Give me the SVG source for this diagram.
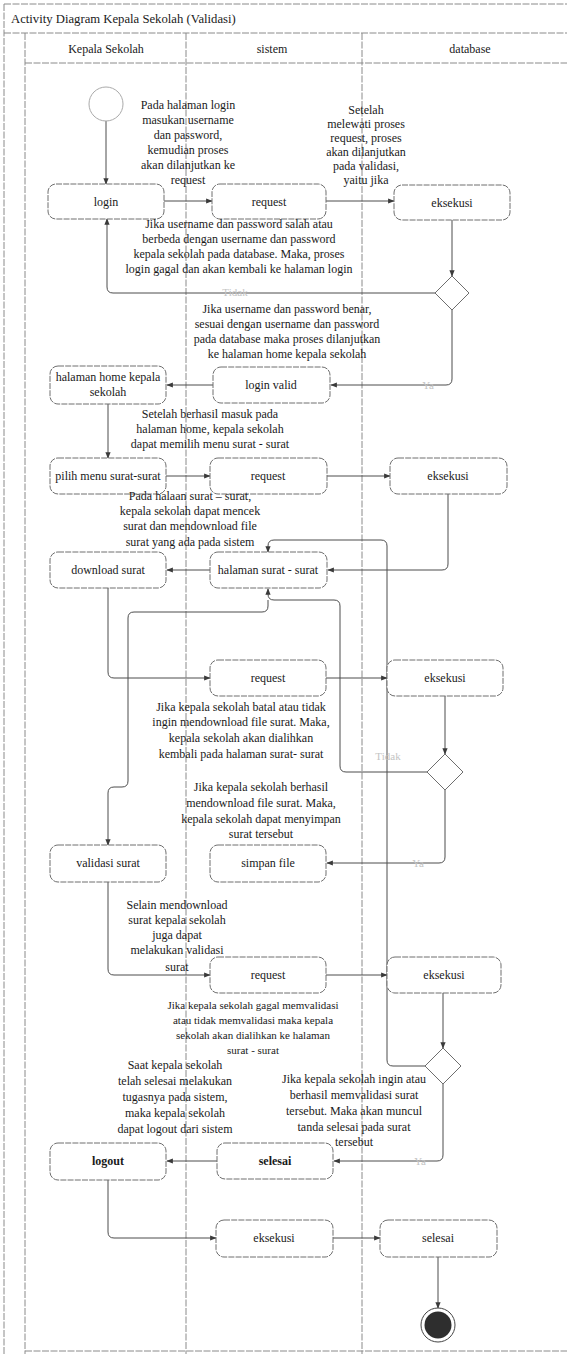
<svg xmlns="http://www.w3.org/2000/svg" width="567" height="1354" viewBox="0 0 567 1354">
  <style>
    .frame { fill: none; stroke: #8a8a8a; stroke-width: 1; stroke-dasharray: 7 1.5; }
    .node rect { fill: #fff; stroke: #6e6e6e; stroke-width: 1; stroke-dasharray: 6 1.2; }
    .node polygon { fill: #fff; stroke: #6e6e6e; stroke-width: 1; }
    .lbl { font-family: "Liberation Serif", "Times New Roman", serif; font-size: 12px; fill: #1a1a1a; text-anchor: middle; }
    .note { font-family: "Liberation Serif", "Times New Roman", serif; font-size: 12px; fill: #1a1a1a; text-anchor: middle; }
    .small { font-size: 11px; }
    .guard { font-family: "Liberation Serif", "Times New Roman", serif; font-size: 11px; fill: #c4c4c4; text-anchor: middle; }
    .title { font-family: "Liberation Serif", "Times New Roman", serif; font-size: 12.7px; fill: #1a1a1a; }
    .edge { fill: none; stroke: #4d4d4d; stroke-width: 1; marker-end: url(#arrow); }
    .bold { font-weight: bold; }
  </style>
  <defs>
    <marker id="arrow" viewBox="0 0 10 10" refX="9" refY="5" markerWidth="6.5" markerHeight="6.5" orient="auto" markerUnits="userSpaceOnUse">
      <path d="M0,1 L10,5 L0,9 z" fill="#3a3a3a"/>
    </marker>
  </defs>

  <rect width="567" height="1354" fill="#fff"/>

  <!-- frame, title row and swimlanes -->
  <g id="frame">
    <line class="frame" x1="4" y1="4" x2="567" y2="4"/>
    <line class="frame" x1="4" y1="4" x2="4" y2="1354"/>
    <line class="frame" x1="4" y1="33" x2="567" y2="33"/>
    <line class="frame" x1="25" y1="63" x2="567" y2="63"/>
    <line class="frame" x1="25" y1="33" x2="25" y2="1354"/>
    <line class="frame" x1="186" y1="33" x2="186" y2="1354"/>
    <line class="frame" x1="362" y1="33" x2="362" y2="1354"/>
    <line class="frame" x1="25" y1="1351" x2="567" y2="1351"/>
    <text class="title" x="11" y="23">Activity Diagram Kepala Sekolah (Validasi)</text>
    <text class="lbl" x="106" y="53">Kepala Sekolah</text>
    <text class="lbl" x="272" y="53">sistem</text>
    <text class="lbl" x="470" y="53">database</text>
  </g>

  <!-- connectors -->
  <g id="connectors">
    <path class="edge" d="M106 121 V184"/>
    <path class="edge" d="M164 201 H212"/>
    <path class="edge" d="M326 201 H394"/>
    <path class="edge" d="M452 220 V276"/>
    <path class="edge" d="M435 293 H113 Q107 293 107 287 V219"/>
    <path class="edge" d="M452 310 V379 Q452 385 446 385 H331"/>
    <path class="edge" d="M213 385 H167"/>
    <path class="edge" d="M108 404 V458"/>
    <path class="edge" d="M166 476 H210"/>
    <path class="edge" d="M327 476 H390"/>
    <path class="edge" d="M448 494 V564 Q448 570 442 570 H328"/>
    <path class="edge" d="M210 570 H167"/>
    <path class="edge" d="M108 588 V672 Q108 678 114 678 H210"/>
    <path class="edge" d="M326 678 H387"/>
    <path class="edge" d="M445 696 V754"/>
    <path class="edge" d="M427 772 H346 Q340 772 340 766 V606 Q340 600 334 600 H274 Q268 600 268 594 V589"/>
    <path class="edge" d="M268 600 V606 Q268 612 262 612 H134 Q128 612 128 618 V781 Q128 787 122 787 H114 Q108 787 108 793 V845"/>
    <path class="edge" d="M445 790 V857 Q445 863 439 863 H327"/>
    <path class="edge" d="M108 882 V969 Q108 975 114 975 H210"/>
    <path class="edge" d="M326 975 H387"/>
    <path class="edge" d="M443 993 V1048"/>
    <path class="edge" d="M425 1066 H393 Q387 1066 387 1060 V546 Q387 540 381 540 H274 Q268 540 268 546 V552"/>
    <path class="edge" d="M443 1084 V1155 Q443 1161 437 1161 H334"/>
    <path class="edge" d="M217 1161 H167"/>
    <path class="edge" d="M108 1180 V1232 Q108 1238 114 1238 H216"/>
    <path class="edge" d="M333 1238 H380"/>
    <path class="edge" d="M438 1257 V1308"/>
    <text class="guard" x="235" y="296">Tidak</text>
    <text class="guard" x="428" y="389">Ya</text>
    <text class="guard" x="388" y="760">Tidak</text>
    <text class="guard" x="418" y="867">Ya</text>
    <text class="guard" x="420" y="1165">Ya</text>
  </g>

  <!-- start -->
  <g id="start">
    <circle cx="106" cy="104" r="17" fill="#fff" stroke="#aaa" stroke-width="1"/>
  </g>

  <!-- actions -->
  <g id="login" class="node">
    <rect x="48" y="184" width="116" height="35" rx="8"/>
    <text class="lbl" x="106" y="206">login</text>
  </g>
  <g id="request1" class="node">
    <rect x="212" y="184" width="114" height="35" rx="8"/>
    <text class="lbl" x="269" y="206">request</text>
  </g>
  <g id="eksekusi1" class="node">
    <rect x="394" y="185" width="116" height="35" rx="8"/>
    <text class="lbl" x="452" y="207">eksekusi</text>
  </g>
  <g id="decision1" class="node">
    <polygon points="452,276 469,293 452,310 435,293"/>
  </g>
  <g id="loginValid" class="node">
    <rect x="213" y="367" width="117" height="36" rx="8"/>
    <text class="lbl" x="271" y="389">login valid</text>
  </g>
  <g id="homeKepsek" class="node">
    <rect x="50" y="366" width="116" height="38" rx="8"/>
    <text class="lbl" x="108" y="381">halaman home kepala</text>
    <text class="lbl" x="108" y="396">sekolah</text>
  </g>
  <g id="pilihMenu" class="node">
    <rect x="50" y="458" width="116" height="36" rx="8"/>
    <text class="lbl" x="108" y="480">pilih menu surat-surat</text>
  </g>
  <g id="request2" class="node">
    <rect x="210" y="458" width="117" height="36" rx="8"/>
    <text class="lbl" x="268" y="480">request</text>
  </g>
  <g id="eksekusi2" class="node">
    <rect x="390" y="458" width="117" height="36" rx="8"/>
    <text class="lbl" x="448" y="480">eksekusi</text>
  </g>
  <g id="halamanSurat" class="node">
    <rect x="210" y="552" width="117" height="36" rx="8"/>
    <text class="lbl" x="268" y="574">halaman surat - surat</text>
  </g>
  <g id="downloadSurat" class="node">
    <rect x="50" y="552" width="116" height="36" rx="8"/>
    <text class="lbl" x="108" y="574">download surat</text>
  </g>
  <g id="request3" class="node">
    <rect x="210" y="660" width="116" height="36" rx="8"/>
    <text class="lbl" x="268" y="682">request</text>
  </g>
  <g id="eksekusi3" class="node">
    <rect x="387" y="660" width="116" height="36" rx="8"/>
    <text class="lbl" x="445" y="682">eksekusi</text>
  </g>
  <g id="decision2" class="node">
    <polygon points="445,754 463,772 445,790 427,772"/>
  </g>
  <g id="validasiSurat" class="node">
    <rect x="50" y="845" width="116" height="37" rx="8"/>
    <text class="lbl" x="108" y="867">validasi surat</text>
  </g>
  <g id="simpanFile" class="node">
    <rect x="210" y="845" width="116" height="37" rx="8"/>
    <text class="lbl" x="268" y="867">simpan file</text>
  </g>
  <g id="request4" class="node">
    <rect x="210" y="957" width="116" height="36" rx="8"/>
    <text class="lbl" x="268" y="979">request</text>
  </g>
  <g id="eksekusi4" class="node">
    <rect x="387" y="957" width="114" height="36" rx="8"/>
    <text class="lbl" x="444" y="979">eksekusi</text>
  </g>
  <g id="decision3" class="node">
    <polygon points="443,1048 461,1066 443,1084 425,1066"/>
  </g>
  <g id="selesaiSistem" class="node">
    <rect x="217" y="1143" width="116" height="36" rx="8"/>
    <text class="lbl bold" x="275" y="1165">selesai</text>
  </g>
  <g id="logout" class="node">
    <rect x="50" y="1143" width="116" height="37" rx="8"/>
    <text class="lbl bold" x="108" y="1165">logout</text>
  </g>
  <g id="eksekusi5" class="node">
    <rect x="216" y="1220" width="117" height="37" rx="8"/>
    <text class="lbl" x="274" y="1242">eksekusi</text>
  </g>
  <g id="selesaiDatabase" class="node">
    <rect x="380" y="1220" width="117" height="37" rx="8"/>
    <text class="lbl" x="438" y="1242">selesai</text>
  </g>

  <!-- end -->
  <g id="end">
    <circle cx="438" cy="1325" r="17" fill="#fff" stroke="#444" stroke-width="1"/>
    <circle cx="438" cy="1325" r="13.5" fill="#2e2e2e"/>
  </g>

  <!-- notes -->
  <g id="noteLogin">
    <text class="note" x="188" y="109">Pada halaman login</text>
    <text class="note" x="188" y="124">masukan username</text>
    <text class="note" x="188" y="139">dan password,</text>
    <text class="note" x="188" y="154">kemudian proses</text>
    <text class="note" x="188" y="169">akan dilanjutkan ke</text>
    <text class="note" x="188" y="184">request</text>
  </g>
  <g id="noteRequest">
    <text class="note" x="366" y="114">Setelah</text>
    <text class="note" x="366" y="128">melewati proses</text>
    <text class="note" x="366" y="142">request, proses</text>
    <text class="note" x="366" y="156">akan dilanjutkan</text>
    <text class="note" x="366" y="170">pada validasi,</text>
    <text class="note" x="366" y="184">yaitu jika</text>
  </g>
  <g id="noteGagal">
    <text class="note" x="239" y="228">Jika username dan password salah atau</text>
    <text class="note" x="239" y="243">berbeda dengan username dan password</text>
    <text class="note" x="239" y="258">kepala sekolah pada database. Maka, proses</text>
    <text class="note" x="239" y="273">login gagal dan akan kembali ke halaman login</text>
  </g>
  <g id="noteBenar">
    <text class="note" x="287" y="313">Jika username dan password benar,</text>
    <text class="note" x="287" y="328">sesuai dengan username dan password</text>
    <text class="note" x="287" y="343">pada database maka proses dilanjutkan</text>
    <text class="note" x="287" y="358">ke halaman home kepala sekolah</text>
  </g>
  <g id="noteHome">
    <text class="note" x="210" y="418">Setelah berhasil masuk pada</text>
    <text class="note" x="210" y="433">halaman home, kepala sekolah</text>
    <text class="note" x="210" y="448">dapat memilih menu surat - surat</text>
  </g>
  <g id="noteSurat">
    <text class="note" x="190" y="500">Pada halaan surat – surat,</text>
    <text class="note" x="190" y="515">kepala sekolah dapat mencek</text>
    <text class="note" x="190" y="530">surat dan mendownload file</text>
    <text class="note" x="190" y="546">surat yang ada pada sistem</text>
  </g>
  <g id="noteBatal">
    <text class="note" x="241" y="711">Jika kepala sekolah batal atau tidak</text>
    <text class="note" x="241" y="726">ingin mendownload file surat. Maka,</text>
    <text class="note" x="241" y="742">kepala sekolah akan dialihkan</text>
    <text class="note" x="241" y="758">kembali pada halaman surat- surat</text>
  </g>
  <g id="noteSimpan">
    <text class="note" x="261" y="791">Jika kepala sekolah berhasil</text>
    <text class="note" x="261" y="807">mendownload file surat. Maka,</text>
    <text class="note" x="261" y="823">kepala sekolah dapat menyimpan</text>
    <text class="note" x="261" y="838">surat tersebut</text>
  </g>
  <g id="noteValidasi">
    <text class="note" x="177" y="909">Selain mendownload</text>
    <text class="note" x="177" y="924">surat kepala sekolah</text>
    <text class="note" x="177" y="939">juga dapat</text>
    <text class="note" x="177" y="954">melakukan validasi</text>
    <text class="note" x="177" y="971">surat</text>
  </g>
  <g id="noteGagalValidasi">
    <text class="note small" x="253" y="1009">Jika kepala sekolah gagal memvalidasi</text>
    <text class="note small" x="253" y="1024">atau tidak memvalidasi maka kepala</text>
    <text class="note small" x="253" y="1039">sekolah akan dialihkan ke halaman</text>
    <text class="note small" x="253" y="1054">surat - surat</text>
  </g>
  <g id="noteLogout">
    <text class="note" x="175" y="1069">Saat kepala sekolah</text>
    <text class="note" x="175" y="1085">telah selesai melakukan</text>
    <text class="note" x="175" y="1101">tugasnya pada sistem,</text>
    <text class="note" x="175" y="1117">maka kepala sekolah</text>
    <text class="note" x="175" y="1133">dapat logout dari sistem</text>
  </g>
  <g id="noteSelesai">
    <text class="note" x="354" y="1083">Jika kepala sekolah ingin atau</text>
    <text class="note" x="354" y="1099">berhasil memvalidasi surat</text>
    <text class="note" x="354" y="1115">tersebut. Maka akan muncul</text>
    <text class="note" x="354" y="1131">tanda selesai pada surat</text>
    <text class="note" x="354" y="1146">tersebut</text>
  </g>
</svg>
